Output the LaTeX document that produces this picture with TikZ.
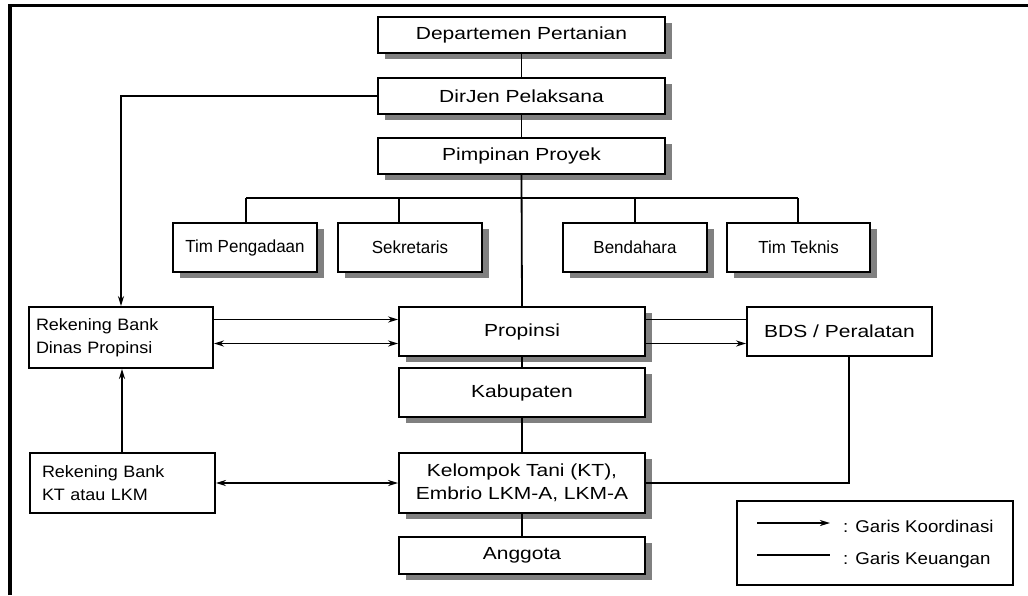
\documentclass[tikz,border=0pt]{standalone}
\usepackage{fontspec}
\setmainfont{Liberation Sans}
\newfontfamily\boxfont[FakeStretch=1.2]{Liberation Sans}
\newfontfamily\teamfont[FakeStretch=0.97]{Liberation Sans}
\newfontfamily\bankfont[FakeStretch=1.09]{Liberation Sans}
\newfontfamily\keyfont[FakeStretch=1.1]{Liberation Sans}
\usetikzlibrary{arrows.meta,shadows}
\definecolor{shadowgray}{HTML}{808080}

\tikzset{
  unitbox/.style={draw, line width=1.8pt, fill=white, inner sep=0pt, align=center},
  shadowed/.style={drop shadow={shadow xshift=7pt, shadow yshift=-6pt,
      fill=shadowgray, opacity=1}},
  mainbox/.style={unitbox, shadowed, minimum width=246pt, minimum height=49pt,
      font=\boxfont\fontsize{17.5}{23}\selectfont},
  topbox/.style={mainbox, minimum width=287pt, minimum height=36pt},
  teambox/.style={unitbox, shadowed, minimum width=144pt, minimum height=49pt,
      font=\teamfont\fontsize{17.5}{22}\selectfont},
  bankbox/.style={unitbox, minimum height=61pt, align=left,
      font=\bankfont\fontsize{16.5}{22.7}\selectfont},
  sidebox/.style={unitbox, minimum width=185pt, minimum height=49pt,
      font=\boxfont\fontsize{17.5}{23}\selectfont},
  keytext/.style={anchor=base west, inner sep=0pt,
      font=\keyfont\fontsize{17}{20}\selectfont},
  link/.style={line width=1.8pt},
  arr/.style={link, -{Stealth[length=10pt,width=6pt,inset=3pt]}},
  dbl/.style={link, {Stealth[length=10pt,width=6pt,inset=3pt]}-{Stealth[length=10pt,width=6pt,inset=3pt]}},
}

\begin{document}
\begin{tikzpicture}[x=1pt, y=-1pt]
  \useasboundingbox (0,0) rectangle (1028,595);

  % open frame: top and left edges only
  \draw[line width=3.4pt] (10,595) -- (10,5.3) -- (1028,5.3);

  % central chain of command
  \node[topbox] (dep) at (521.5,35)  {Departemen Pertanian};
  \node[topbox] (dir) at (521.5,96)  {DirJen Pelaksana};
  \node[topbox] (pim) at (521.5,156) {Pimpinan Proyek};

  % project staff
  \node[teambox] (tpg) at (245,247.5)   {Tim Pengadaan};
  \node[teambox] (sek) at (410,247.5)   {Sekretaris};
  \node[teambox] (ben) at (635,247.5)   {Bendahara};
  \node[teambox, minimum width=143pt] (tte) at (798.5,247.5) {Tim Teknis};

  % regional levels
  \node[mainbox] (prop) at (522,331.5) {Propinsi};
  \node[mainbox] (kab)  at (522,392.5) {Kabupaten};
  \node[mainbox, minimum height=60pt] (kel) at (522,483)
       {Kelompok Tani (KT),\\Embrio LKM-A, LKM-A};
  \node[mainbox, minimum height=37pt] (ang) at (522,555.5) {Anggota};

  % bank accounts
  \node[bankbox, minimum width=184pt, text width=170pt] (rekd) at (121,337.5)
       {Rekening Bank\\Dinas Propinsi};
  \node[bankbox, minimum width=185pt, minimum height=60pt, text width=161pt,
        inner xsep=12pt] (rekk) at (122.5,483)
       {Rekening Bank\\KT atau LKM};

  % equipment
  \node[sidebox] (bds) at (839.5,331.5) {BDS / Peralatan};

  % key
  \node[unitbox, minimum width=276pt, minimum height=84pt] (key) at (875,543) {};
  \coordinate (k1a) at (757,523);
  \coordinate (k1b) at (830,523);
  \coordinate (k2a) at (757,555);
  \coordinate (k2b) at (830,555);
  \node[keytext] (k1t) at (843,532) {: Garis Koordinasi};
  \node[keytext] (k2t) at (843,564) {: Garis Keuangan};
  \draw[arr] (k1a) -- (k1b);
  \draw[link] (k2a) -- (k2b);

  % vertical chain
  \draw[link] (dep.south) -- (dir.north);
  \draw[link] (dir.south) -- (pim.north);
  \draw[link] (pim.south) -- (prop.north);
  \draw[link] (prop.south) -- (kab.north);
  \draw[link] (kab.south) -- (kel.north);
  \draw[link] (kel.south) -- (ang.north);

  % staff bus
  \coordinate (busL) at (246,198);
  \coordinate (busR) at (798,198);
  \coordinate (sekdrop) at (399,198);
  \draw[link] (busL) -- (busR);
  \draw[link] (busL) -- (busL |- tpg.north);
  \draw[link] (sekdrop) -- (sekdrop |- sek.north);
  \draw[link] (ben.north |- busL) -- (ben.north);
  \draw[link] (busR) -- (busR |- tte.north);

  % coordination and finance links
  \draw[arr] (dir.west) -| (rekd.north);
  \coordinate (pu) at ([yshift=12pt]prop.west);
  \coordinate (pd) at ([yshift=-12pt]prop.west);
  \coordinate (qu) at ([yshift=12pt]prop.east);
  \coordinate (qd) at ([yshift=-12pt]prop.east);
  \draw[arr] (pu -| rekd.east) -- (pu);
  \draw[dbl] (pd -| rekd.east) -- (pd);
  \draw[link] (qu) -- (qu -| bds.west);
  \draw[arr] (qd) -- (qd -| bds.west);
  \coordinate (rkup) at (122,453);
  \draw[arr] (rkup) -- (rkup |- rekd.south);
  \draw[dbl] (rekk.east) -- (kel.west);
  \coordinate (bdsdrop) at ([xshift=9.5pt]bds.south);
  \draw[link] (bdsdrop) |- (kel.east);
\end{tikzpicture}
\end{document}
